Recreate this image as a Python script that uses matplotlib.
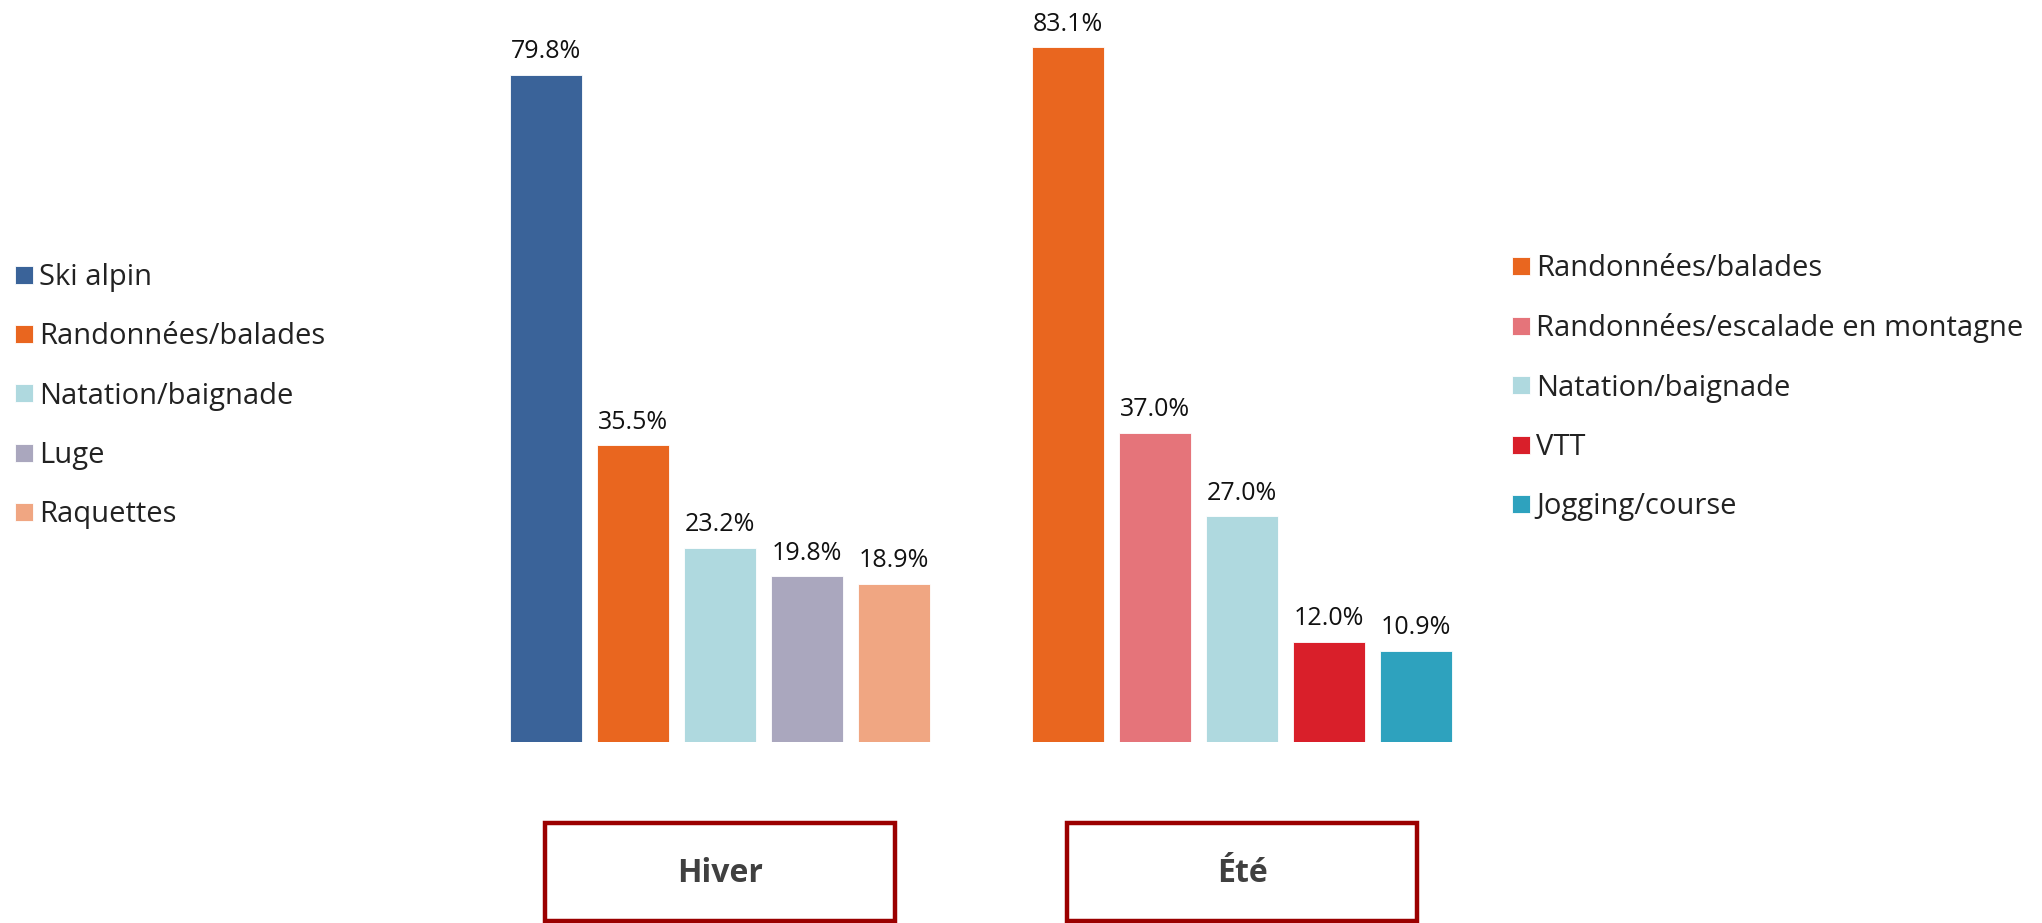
import matplotlib.pyplot as plt
from matplotlib.patches import Rectangle
from matplotlib.transforms import blended_transform_factory

plt.rcParams['font.family'] = ['Open Sans', 'DejaVu Sans']

# données
hiver_labels = ['Ski alpin', 'Randonnées/balades', 'Natation/baignade', 'Luge', 'Raquettes']
hiver_values = [79.8, 35.5, 23.2, 19.8, 18.9]
hiver_colors = ['#3A6399', '#E9661F', '#AFD9DF', '#AAA7BE', '#F0A682']

ete_labels = ['Randonnées/balades', 'Randonnées/escalade en montagne', 'Natation/baignade', 'VTT', 'Jogging/course']
ete_values = [83.1, 37.0, 27.0, 12.0, 10.9]
ete_colors = ['#E9661F', '#E5747A', '#AFD9DF', '#D91F2A', '#2EA2BE']

seasons = ['Hiver', 'Été']

W, H = 2042, 923
fig = plt.figure(figsize=(W / 100, H / 100), dpi=100)

# axe placé pour que le pas des barres fasse ~87 px
x_left = 546 - 0.5 * 87
x_right = 546 + 10.5 * 87
y_base = 742
y_top = y_base - 85 * 8.36
ax = fig.add_axes([x_left / W, (H - y_base) / H, (x_right - x_left) / W, (y_base - y_top) / H])
ax.set_xlim(-0.5, 10.5)
ax.set_ylim(0, 85)
ax.axis('off')

hx = list(range(len(hiver_values)))
ex = [i + 6 for i in range(len(ete_values))]
bw = 0.82

bars_h = ax.bar(hx, hiver_values, width=bw, color=hiver_colors, edgecolor='white', linewidth=0.6)
bars_e = ax.bar(ex, ete_values, width=bw, color=ete_colors, edgecolor='white', linewidth=0.6)

for x, v in list(zip(hx, hiver_values)) + list(zip(ex, ete_values)):
    ax.annotate(f'{v:.1f}%', (x, v), xytext=(0, 12), textcoords='offset points',
                ha='center', va='baseline', fontsize=18, color='#111111')

# légendes
leg_kw = dict(frameon=False, fontsize=21, handlelength=0.62, handleheight=0.58,
              handletextpad=0.2, labelspacing=1.04, borderpad=0, borderaxespad=0)
leg1 = fig.legend(bars_h, hiver_labels, loc='upper left',
                  bbox_to_anchor=(15 / W, 1 - 263 / H), **leg_kw)
leg2 = fig.legend(bars_e, ete_labels, loc='upper left',
                  bbox_to_anchor=(1512 / W, 1 - 254 / H), **leg_kw)
for leg in (leg1, leg2):
    for t in leg.get_texts():
        t.set_color('#222222')

# cadres saisons
tr = blended_transform_factory(ax.transData, fig.transFigure)
box_w = 350 / 87
for cx, name in zip([2, 8], seasons):
    fig.patches.append(Rectangle((cx - box_w / 2, 1 - 921 / H), box_w, 98 / H, transform=tr,
                                 fill=False, edgecolor='#9B0000', linewidth=3.2, clip_on=False))
    fig.text(cx, 1 - 873 / H, name, transform=tr, ha='center', va='center',
             fontsize=23, fontweight='bold', color='#404040')

fig.savefig('out.png', dpi=100)
